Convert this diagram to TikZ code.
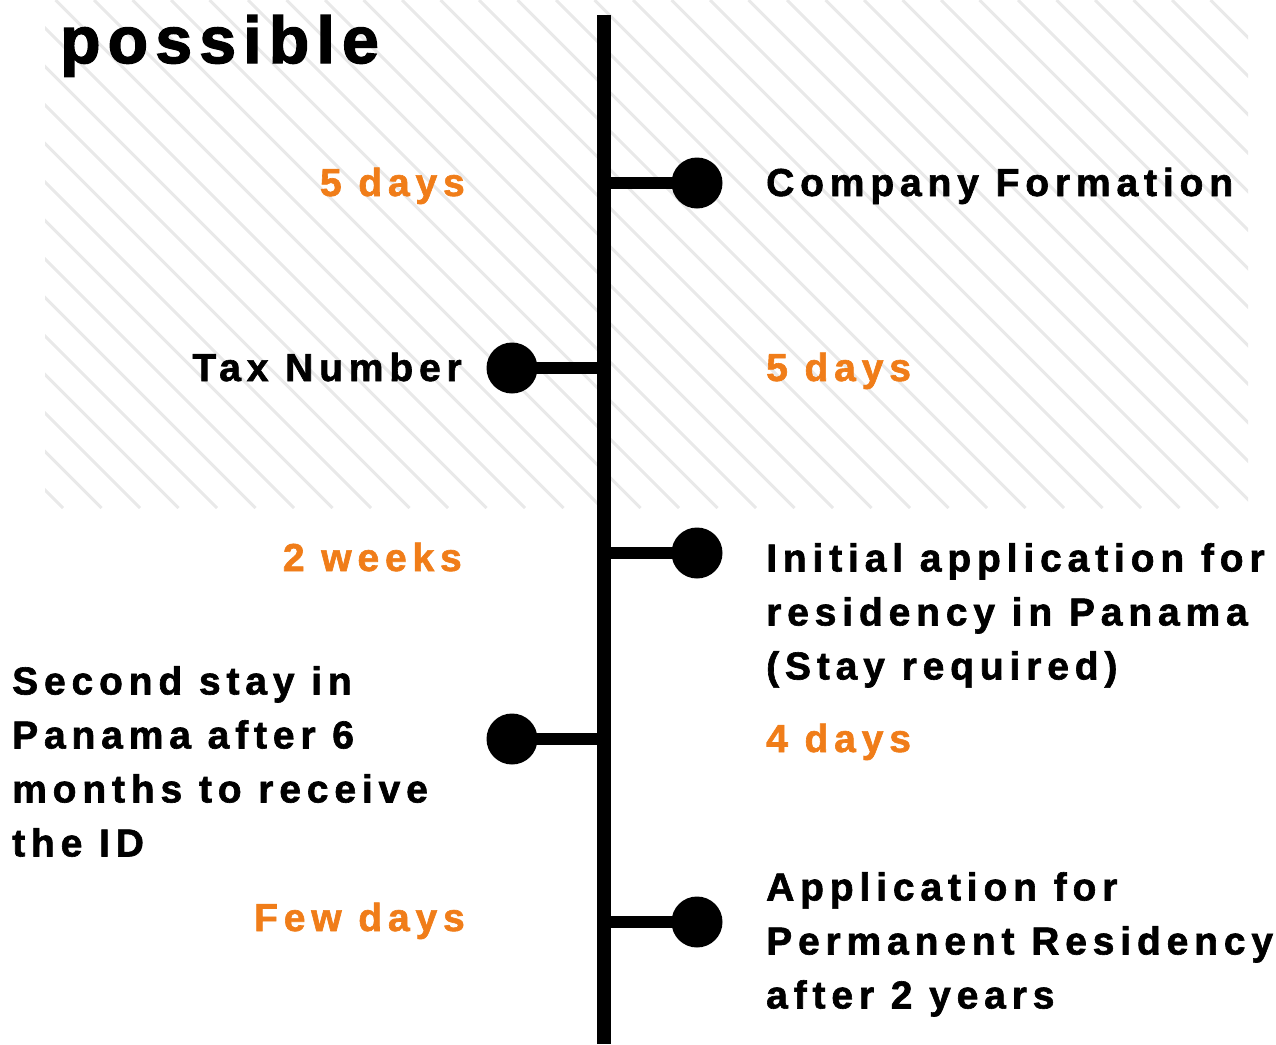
\documentclass[tikz,border=0pt]{standalone}
\usepackage{fontspec}
\newfontfamily\stepfont{Liberation Sans Bold}[FakeBold=1.6, LetterSpace=15]
\newfontfamily\headfont{Liberation Sans Bold}[FakeBold=2.2, LetterSpace=11]
\usetikzlibrary{calc}
\definecolor{dayorange}{RGB}{240,125,25}
\definecolor{hatchgray}{RGB}{233,233,233}

\begin{document}
\begin{tikzpicture}[x=1pt, y=-1pt,
  stage/.style={font=\stepfont\fontsize{39}{54}\selectfont, inner sep=0pt, align=left},
  days/.style={stage, text=dayorange},
  head/.style={font=\headfont\fontsize{66}{66}\selectfont, inner sep=0pt},
  dot/.style={circle, fill=black, minimum size=51pt, inner sep=0pt},
  branch/.style={line width=12pt}]
\useasboundingbox (0,0) rectangle (1276,1044);
\begin{scope}
  \clip (45,0) rectangle (1248,508);
  \foreach \k in {-13,...,32}
    \draw[hatchgray, line width=3pt] ({17+38.5*\k},0) -- ({525+38.5*\k},508);
\end{scope}
\node[head, anchor=base west] (title) at (60,63) {possible};
\coordinate (top) at (604,15);
\coordinate (bottom) at (604,1044);
\draw[line width=14pt] (top) -- (bottom);
\node[dot] (d1) at (697,183) {};
\node[dot] (d2) at (512,368) {};
\node[dot] (d3) at (697,553) {};
\node[dot] (d4) at (512,739) {};
\node[dot] (d5) at (697,922) {};
\foreach \d in {d1,d2,d3,d4,d5}
  \draw[branch] (\d.center) -- (\d.center -| top);
\node[days, anchor=base east] (t1) at (465,196) {5 days};
\node[stage, anchor=base west] (s1) at (766,196) {Company Formation};
\node[stage, anchor=base east] (s2) at (462,381) {Tax Number};
\node[days, anchor=base west] (t2) at (766,381) {5 days};
\node[days, anchor=base east] (t3) at (462,571) {2 weeks};
\node[stage, anchor=north west] (s3) at (766,543) {Initial application for\\residency in Panama\\(Stay required)};
\node[stage, anchor=north west] (s4) at (12,666) {Second stay in\\Panama after 6\\months to receive\\the ID};
\node[days, anchor=base west] (t4) at (766,752) {4 days};
\node[days, anchor=base east] (t5) at (465,931) {Few days};
\node[stage, anchor=north west] (s5) at (766,872) {Application for\\Permanent Residency\\after 2 years};
\end{tikzpicture}
\end{document}
